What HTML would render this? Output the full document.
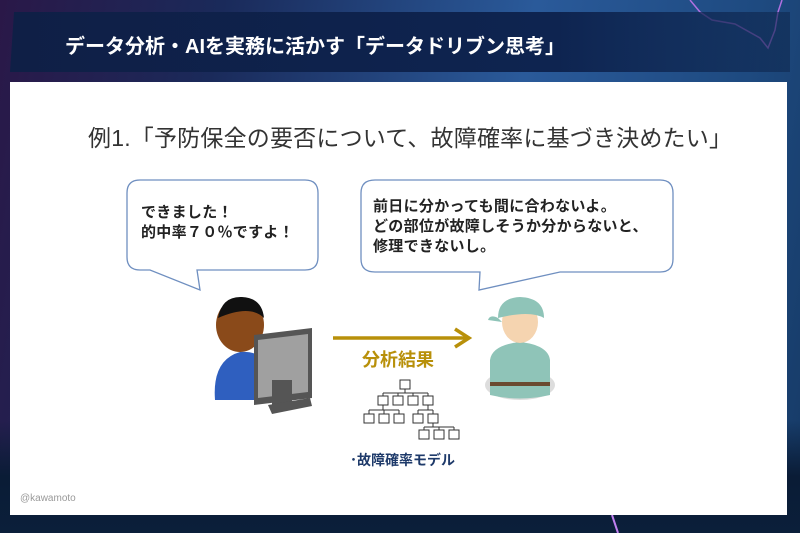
<!DOCTYPE html>
<html><head><meta charset="utf-8"><style>
body{margin:0;width:800px;height:533px;overflow:hidden;position:relative;font-family:"Liberation Sans","Noto Sans CJK JP",sans-serif;
background:linear-gradient(100deg,#2a1848 0%,#1a2a5a 25%,#2a5a9a 60%,#1e4a80 85%,#163a66 100%);}
.bot{position:absolute;left:0;top:420px;width:800px;height:113px;background:linear-gradient(180deg,rgba(10,25,50,0) 0%,#0a1c36 50%,#0b1f3a 100%);}
.band{position:absolute;left:10px;top:12px;width:780px;height:60px;background:linear-gradient(90deg,#0f1f46 0%,#0e2450 70%,rgba(14,40,80,0.6) 100%);clip-path:polygon(4px 0,100% 0,100% 100%,0 100%);}
.title{position:absolute;left:65px;top:30px;color:#fff;font-size:20px;font-weight:bold;white-space:nowrap;}
.panel{position:absolute;left:10px;top:82px;width:777px;height:433px;background:#fff;}
.h{position:absolute;left:88px;top:119px;font-size:23px;color:#333;white-space:nowrap;letter-spacing:0.2px;}
.t{position:absolute;font-size:15px;font-weight:bold;color:#222;line-height:20px;white-space:nowrap;letter-spacing:0.3px;}
.lbl{position:absolute;left:362px;top:346px;font-size:18px;font-weight:bold;color:#b8900a;}
.m{position:absolute;left:350px;top:450px;font-size:14px;font-weight:bold;color:#1e3a6a;}
.c{position:absolute;left:20px;top:493px;font-size:10px;color:#999;}
</style></head><body>
<div class="bot"></div>
<svg width="800" height="533" style="position:absolute;left:0;top:0">
<path d="M690 0 L700 12 L712 20 L735 24 L760 38 L768 48 L775 30 L778 12 L782 0" stroke="#b070e0" stroke-width="1.5" fill="none"/>
<path d="M612 515 L618 533" stroke="#c080f0" stroke-width="2"/>
</svg>
<div class="band"></div>
<div class="title">データ分析・AIを実務に活かす「データドリブン思考」</div>
<div class="panel"></div>
<div class="h">例1.「予防保全の要否について、故障確率に基づき決めたい」</div>
<svg width="800" height="533" style="position:absolute;left:0;top:0">
<path d="M140 180 H305 Q318 180 318 193 V257 Q318 270 305 270 H197 L200 290 L150 270 H140 Q127 270 127 257 V193 Q127 180 140 180 Z" fill="#fff" stroke="#6f8fc0" stroke-width="1.3"/>
<path d="M375 180 H660 Q673 180 673 193 V259 Q673 272 660 272 H560 L479 290 L480 272 H375 Q361 272 361 259 V193 Q361 180 375 180 Z" fill="#fff" stroke="#6f8fc0" stroke-width="1.3"/>
<line x1="333" y1="338" x2="466" y2="338" stroke="#b8900a" stroke-width="3.5"/>
<path d="M455 329 L469 338 L455 347" fill="none" stroke="#b8900a" stroke-width="3.5"/>
<ellipse cx="240" cy="325" rx="24" ry="27" fill="#8a4a1a"/>
<path d="M218 318 Q222 296 242 297 Q262 298 264 318 Q250 304 218 318Z" fill="#111"/>
<path d="M215 400 Q212 360 240 352 Q268 350 280 380 V400Z" fill="#2f5fbf"/>
<path d="M254 335 L312 328 V398 L254 405Z" fill="#555"/>
<path d="M258 340 L308 334 V392 L258 398Z" fill="#a0a0a0"/>
<rect x="272" y="380" width="20" height="30" fill="#555"/>
<path d="M268 405 L310 398 L312 406 L272 414Z" fill="#555"/>
<ellipse cx="520" cy="385" rx="35" ry="15" fill="#ddd"/>
<path d="M490 395 V360 Q492 345 520 342 Q548 345 550 360 V395 Q520 402 490 395Z" fill="#8fc4b8"/>
<rect x="490" y="382" width="60" height="4" fill="#6a4a30"/>
<ellipse cx="520" cy="322" rx="18" ry="21" fill="#f5d4b0"/>
<path d="M498 318 Q498 298 520 297 Q544 298 544 318 Q530 310 498 318Z" fill="#8fc4b8"/>
<path d="M498 318 Q490 314 488 320 L502 322Z" fill="#8fc4b8"/>
<g fill="#fff" stroke="#333" stroke-width="1">
<rect x="400" y="380" width="10" height="9"/>
<rect x="378" y="396" width="10" height="9"/><rect x="393" y="396" width="10" height="9"/><rect x="408" y="396" width="10" height="9"/><rect x="423" y="396" width="10" height="9"/>
<rect x="364" y="414" width="10" height="9"/><rect x="379" y="414" width="10" height="9"/><rect x="394" y="414" width="10" height="9"/><rect x="413" y="414" width="10" height="9"/><rect x="428" y="414" width="10" height="9"/>
<rect x="419" y="430" width="10" height="9"/><rect x="434" y="430" width="10" height="9"/><rect x="449" y="430" width="10" height="9"/>
</g>
<path d="M405 389 V393 M383 393 H428 M383 393 V396 M398 393 V396 M413 393 V396 M428 393 V396 M383 405 V410 M369 410 H399 M369 410 V414 M384 410 V414 M399 410 V414 M428 405 V410 M418 410 H433 M418 410 V414 M433 410 V414 M433 423 V427 M424 427 H454 M424 427 V430 M439 427 V430 M454 427 V430" stroke="#333" fill="none"/>
</svg>
<div class="t" style="left:141px;top:203px">できました！<br>的中率７０％ですよ！</div>
<div class="t" style="left:373px;top:197px">前日に分かっても間に合わないよ。<br>どの部位が故障しそうか分からないと、<br>修理できないし。</div>
<div class="lbl">分析結果</div>
<div class="m">･故障確率モデル</div>
<div class="c">@kawamoto</div>
</body></html>
